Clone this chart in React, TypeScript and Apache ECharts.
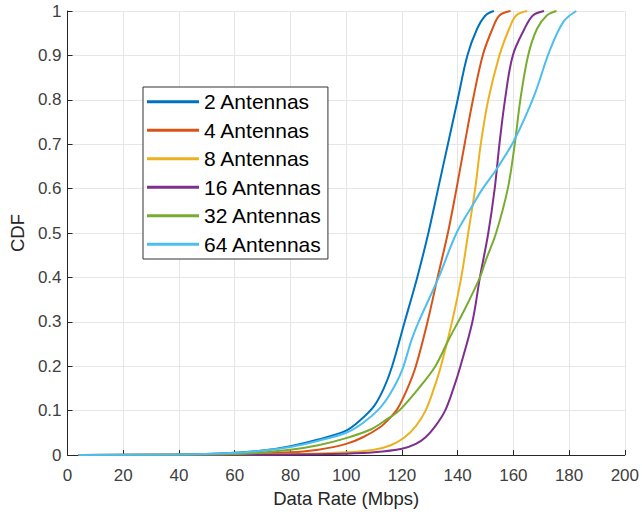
import React, { useEffect, useRef } from "react";
import * as echarts from "echarts";

// Data Rate (Mbps) and CDF values
const names = ["2 Antennas", "4 Antennas", "8 Antennas", "16 Antennas", "32 Antennas", "64 Antennas"];
const colors = ["#0072BD", "#D95319", "#EDB120", "#7E2F8E", "#77AC30", "#4DBEEE"];

const rate2 = [4, 40, 60, 70, 80, 90, 100, 105, 110, 113.5, 116.5, 121, 125.5, 129.5, 133, 136.5, 140, 143.5, 147, 150, 153];
const cdf2 = [0, 0.001, 0.005, 0.01, 0.02, 0.035, 0.055, 0.078, 0.11, 0.15, 0.2, 0.3, 0.4, 0.5, 0.6, 0.7, 0.8, 0.9, 0.96, 0.99, 1];

const rate4 = [4, 60, 80, 90, 100, 106, 112, 115.5, 118.5, 122, 125, 129.2, 132.8, 136.5, 139.6, 142.5, 145.5, 149, 152.5, 155, 159];
const cdf4 = [0, 0.002, 0.006, 0.012, 0.025, 0.04, 0.062, 0.082, 0.105, 0.15, 0.2, 0.3, 0.4, 0.5, 0.6, 0.7, 0.8, 0.9, 0.96, 0.99, 1];

const rate8 = [4, 80, 100, 110, 116, 121, 125, 128.5, 131.5, 134, 138, 141.3, 143.8, 146.3, 148.3, 151, 155, 158.5, 161, 165];
const cdf8 = [0, 0.002, 0.006, 0.012, 0.022, 0.04, 0.065, 0.1, 0.15, 0.2, 0.3, 0.4, 0.5, 0.6, 0.7, 0.8, 0.9, 0.96, 0.99, 1];

const rate16 = [4, 80, 100, 110, 120, 125, 128.5, 132, 135.5, 138.5, 141, 145.3, 148, 151, 153.3, 155, 157, 159.8, 164, 167, 171];
const cdf16 = [0, 0.001, 0.003, 0.006, 0.014, 0.025, 0.04, 0.065, 0.1, 0.15, 0.2, 0.3, 0.4, 0.5, 0.6, 0.7, 0.8, 0.9, 0.96, 0.99, 1];

const rate32 = [4, 60, 80, 90, 100, 109, 114, 119, 126, 132, 136.8, 142.7, 148, 150.2, 153.8, 158, 160.5, 162.5, 165.3, 168.5, 172, 175.5];
const cdf32 = [0, 0.002, 0.012, 0.022, 0.038, 0.058, 0.078, 0.1, 0.15, 0.2, 0.26, 0.33, 0.4, 0.44, 0.5, 0.6, 0.7, 0.8, 0.9, 0.96, 0.99, 1];

const rate64 = [4, 40, 60, 70, 80, 90, 100, 106, 112, 116, 120, 123.5, 126, 133.2, 139.6, 145.6, 149, 154, 160.4, 167.5, 173, 178, 182.6];
const cdf64 = [0, 0.001, 0.005, 0.01, 0.018, 0.032, 0.05, 0.072, 0.105, 0.14, 0.19, 0.26, 0.3, 0.4, 0.5, 0.565, 0.6, 0.644, 0.71, 0.81, 0.91, 0.976, 1];

const rates = [rate2, rate4, rate8, rate16, rate32, rate64];
const cdfs = [cdf2, cdf4, cdf8, cdf16, cdf32, cdf64];

const FONT = "Liberation Sans, Arial, sans-serif";

export default function App() {
  const ref = useRef<HTMLDivElement>(null);
  useEffect(() => {
    if (!ref.current) return;
    const chart = echarts.init(ref.current, null, { renderer: "svg" });
    const series = names.map((n, i) => ({
      name: n,
      type: "line",
      data: rates[i].map((r, k) => [r, cdfs[i][k]]),
      showSymbol: false,
      symbol: "none",
      smooth: 0.35,
      lineStyle: { width: 2, color: colors[i] },
      itemStyle: { color: colors[i] },
    }));
    chart.setOption({
      animation: false,
      backgroundColor: "#fff",
      textStyle: { fontFamily: FONT },
      grid: { left: 64, right: 14, top: 11, bottom: 59 },
      legend: {
        orient: "vertical",
        left: 143,
        top: 87,
        icon: "rect",
        itemWidth: 52,
        itemHeight: 3,
        itemGap: 7,
        data: names,
        textStyle: { fontSize: 21, color: "#000", fontFamily: FONT, lineHeight: 21.5 },
        borderColor: "#333",
        borderWidth: 1,
        backgroundColor: "#fff",
        padding: [4, 6, 4, 4],
      },
      xAxis: {
        type: "value",
        min: 0,
        max: 200,
        interval: 20,
        name: "Data Rate (Mbps)",
        nameLocation: "middle",
        nameGap: 34,
        nameTextStyle: { fontSize: 18.5, color: "#262626", fontFamily: FONT },
        axisLine: { show: true, onZero: false, lineStyle: { color: "#262626", width: 1 } },
        axisTick: { show: true, inside: true, length: 5, lineStyle: { color: "#262626" } },
        axisLabel: { fontSize: 17, color: "#404040", margin: 12, fontFamily: FONT },
        splitLine: { show: true, lineStyle: { color: "#e6e6e6", width: 1 } },
      },
      yAxis: {
        type: "value",
        min: 0,
        max: 1,
        interval: 0.1,
        name: "CDF",
        nameLocation: "middle",
        nameGap: 40,
        nameTextStyle: { fontSize: 18.5, color: "#262626", fontFamily: FONT },
        axisLine: { show: true, onZero: false, lineStyle: { color: "#262626", width: 1 } },
        axisTick: { show: true, inside: true, length: 5, lineStyle: { color: "#262626" } },
        axisLabel: { fontSize: 17, color: "#404040", margin: 6, fontFamily: FONT },
        splitLine: { show: true, lineStyle: { color: "#e6e6e6", width: 1 } },
      },
      series,
    });
    return () => chart.dispose();
  }, []);
  return <div ref={ref} style={{ position: "fixed", left: 0, top: 0, width: 642, height: 514 }} />;
}
